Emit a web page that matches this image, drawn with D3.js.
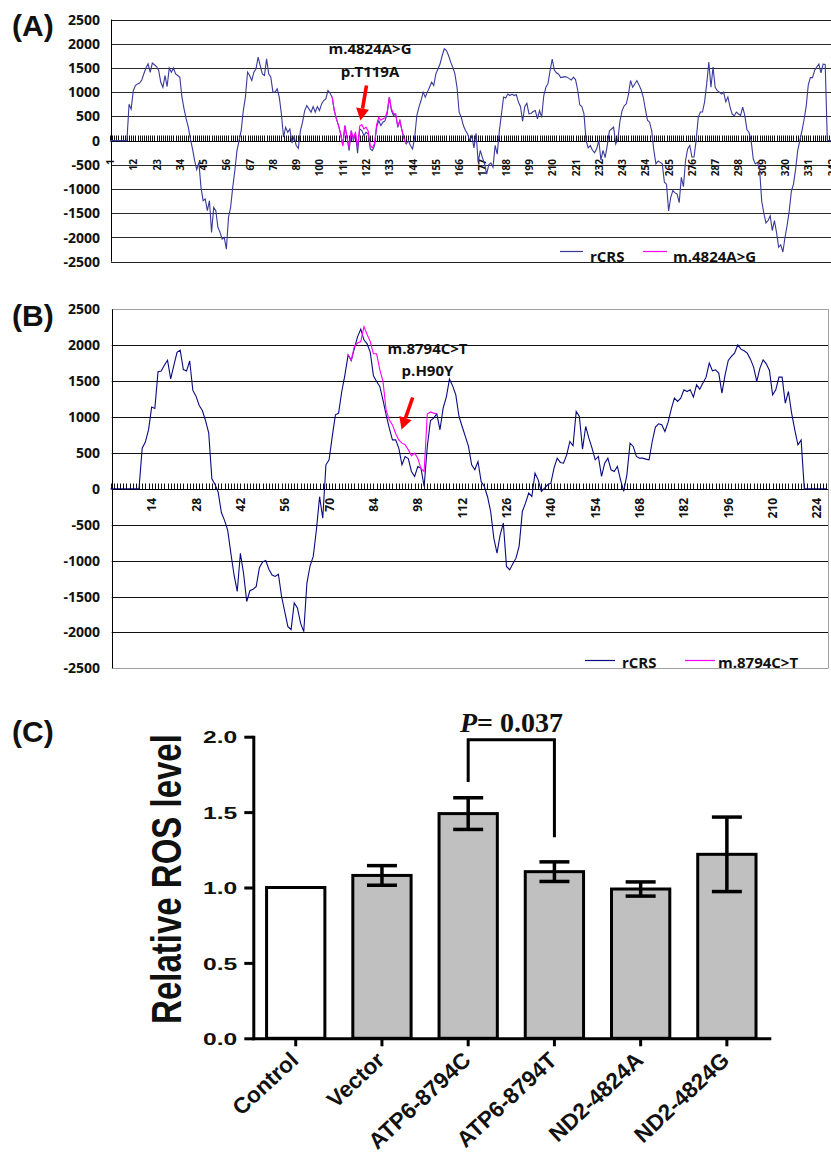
<!DOCTYPE html>
<html>
<head>
<meta charset="utf-8">
<script src="https://cdn.jsdelivr.net/npm/d3@7"></script>
<style>
  body { margin: 0; background: #fff; }
  svg { display: block; background: #fff; }
  .prof text { font-family: "Open Sans", sans-serif; font-weight: bold; fill: #111; }
  .bars text { font-family: "Liberation Sans", Arial, sans-serif; font-weight: bold; fill: #111; }
  .panel-label { font-family: "Liberation Sans", Arial, sans-serif; font-weight: bold; font-size: 30px; fill: #111; }
</style>
</head>
<body>
<svg id="fig" width="831" height="1153"></svg>
<script>
// ---- data ----
const profileTicks = [-2500, -2000, -1500, -1000, -500, 0, 500, 1000, 1500, 2000, 2500];

// panel A : ND2 hydropathy, rCRS vs m.4824A>G
const aLabels = [1, 12, 23, 34, 45, 56, 67, 78, 89, 100, 111, 122, 133, 144, 155, 166, 177, 188, 199, 210,
  221, 232, 243, 254, 265, 276, 287, 298, 309, 320, 331, 342];
const aRCRS = [
  0, 0, 0, 0, 0, 0, 0, 0, 0, 750,
  650, 1030, 1137, 1170, 1190, 1250, 1380, 1500, 1585, 1410,
  1600, 1565, 1530, 1447, 1205, 1100, 1343, 1116, 1500, 1412,
  1500, 1378, 1343, 1309, 896, 655, 448, 276, 34, -172,
  -413, -600, -450, -965, -1240, -1205, -1447, -1240, -1895, -1378,
  -1447, -1790, -1895, -2032, -2000, -2240, -1585, -1378, -965, -620,
  -207, 0, 207, 620, 896, 1412, 1343, 1240, 1412, 1480,
  1723, 1550, 1378, 1343, 1688, 1378, 1309, 1000, 1000, 1068,
  896, 551, 69, 276, 172, 241, -50, 83, -103, -160,
  207, 380, 620, 723, 655, 586, 703, 586, 703, 620,
  758, 827, 860, 1033, 978, 896, 620, 448, 310, 138,
  -103, 310, 69, -207, 207, 0, 138, -262, 241, 207,
  103, 172, 138, -172, -207, -103, 276, 413, 310, 380,
  413, 551, 896, 620, 517, 551, 276, 413, 207, 34,
  -69, 0, -103, -172, 69, 517, 690, 827, 1000, 896,
  1000, 1100, 1205, 1137, 1378, 1480, 1585, 1757, 1895, 1860,
  1757, 1620, 1516, 1378, 1100, 586, 482, 310, 207, 138,
  0, 100, -150, 150, -450, -200, -350, -480, -690, -500,
  -460, -550, -100, -280, 200, 550, 900, 880, 960, 930,
  960, 930, 950, 800, 700, 400, 700, 770, 550, 560,
  600, 620, 450, 620, 480, 930, 1100, 1180, 1450, 1680,
  1450, 1400, 1370, 1300, 1310, 1320, 1310, 1280, 1250, 1310,
  1260, 1050, 740, 700, 550, 0, -150, -100, -200, -250,
  -170, 0, -400, -200, -350, -100, 200, 240, 280, -70,
  30, 400, 620, 720, 760, 950, 1240, 1100, 1170, 1240,
  1150, 1050, 900, 650, 420, 380, 200, -200, -480, -420,
  -450, -480, -860, -900, -1450, -1170, -1030, -1080, -1100, -1280,
  -760, -950, -410, -170, -100, -340, -340, 0, 480, 590,
  590, 800, 1170, 1620, 1100, 1520, 1100, 1030, 1000, 960,
  1000, 800, 900, 700, 550, 510, 590, 550, 520, 690,
  520, 230, 170, 0, -380, -480, -450, -600, -1250, -1500,
  -1700, -1650, -1550, -1860, -1650, -1900, -2200, -2150, -2300, -2000,
  -1750, -1450, -1050, -900, -600, -200, 0, 200, 430, 700,
  1150, 1300, 1300, 1450, 1520, 1580, 1400, 1580, 1570, 0,
  0, 0
];
const aMutantStart = 106;
const aMutant = [
  896, 620, 448, 310, 138, -103, 310, 69, -150, 207,
  40, 180, -150, 300, 330, 240, 280, 200, -100, -150,
  -60, 330, 480, 420, 450, 470, 600, 896, 650, 560,
  551, 300, 413, 207, 34, -69
];

// panel B : ATP6 hydropathy, rCRS vs m.8794C>T
const bLabels = [14, 28, 42, 56, 70, 84, 98, 112, 126, 140, 154, 168, 182, 196, 210, 224];
const bRCRS = [
  0, 0, 0, 0, 0, 0, 0, 0, 0, 0,
  566, 650, 820, 1140, 1120, 1630, 1640, 1720, 1790, 1530,
  1720, 1900, 1930, 1660, 1640, 1780, 1370, 1290, 1160, 1090,
  950, 780, 140, 60, -50, -330, -440, -580, -900, -1200,
  -1430, -900, -1180, -1570, -1420, -1400, -1360, -1100, -1020, -1000,
  -1120, -1200, -1220, -1190, -1500, -1710, -1920, -1960, -1590, -1660,
  -1870, -1990, -1313, -1072, -942, -571, -110, -410, 334, 404,
  730, 1030, 1054, 1355, 1588, 1866, 1787, 1959, 2120, 2224,
  2075, 2019, 1900, 1574, 1495, 1425, 1240, 1030, 845, 682,
  682, 566, 334, 450, 420, 241, 172, 311, 288, 32,
  590, 952, 984, 1044, 822, 1123, 1277, 1527, 1434, 1309,
  1007, 868, 729, 590, 334, 265, 380, 102, 32, -107,
  -316, -687, -896, -641, -478, -1082, -1128, -1044, -966, -794,
  -316, -200, -60, -107, 218, 125, -37, 9, 56, 79,
  288, 427, 367, 357, 473, 659, 599, 1077, 1007, 552,
  868, 705, 566, 404, 450, 172, 357, 427, 265, 241,
  311, 125, -37, 195, 636, 590, 450, 427, 427, 413,
  404, 659, 859, 905, 891, 798, 924, 1109, 1263, 1216,
  1263, 1379, 1355, 1379, 1277, 1448, 1388, 1472, 1555, 1750,
  1643, 1657, 1611, 1332, 1588, 1787, 1843, 1889, 2005, 1945,
  1922, 1889, 1806, 1694, 1495, 1680, 1796, 1741, 1648, 1309,
  1379, 1555, 1555, 1193, 1355, 1054, 822, 613, 680, 0,
  0, 0, 0, 0, 0, 0, 0
];
const bMutantStart = 76;
const bMutant = [
  1866, 1787, 1990, 2030, 2050, 2260, 2150, 2050, 1880, 1880,
  1660, 1500, 1100, 960, 890, 770, 680, 636, 613, 543,
  460, 497, 427, 280, 241, 1040, 1070, 1054, 1044
];

// panel C : relative ROS level
const rosGroups = ["Control", "Vector", "ATP6-8794C", "ATP6-8794T", "ND2-4824A", "ND2-4824G"];
const rosMean = [1.0, 1.08, 1.49, 1.105, 0.99, 1.22];
const rosSem = [0, 0.065, 0.105, 0.065, 0.047, 0.247];
const rosTicks = [0, 0.5, 1.0, 1.5, 2.0];
const rosCompare = ["ATP6-8794C", "ATP6-8794T"];
const rosPvalue = "0.037";

// ---- drawing ----
const svg = d3.select("#fig");
const crisp = v => Math.round(v) + 0.5;

function arrow(g, x1, y1, x2, y2) {
  const ang = Math.atan2(y2 - y1, x2 - x1);
  const hl = 12, hw = 6.5;
  const bx = x2 - hl * Math.cos(ang), by = y2 - hl * Math.sin(ang);
  g.append("line").attr("x1", x1).attr("y1", y1).attr("x2", bx).attr("y2", by)
    .attr("stroke", "#ff0000").attr("stroke-width", 3.6);
  g.append("path")
    .attr("d", `M${x2},${y2}L${bx + hw * Math.sin(ang)},${by - hw * Math.cos(ang)}L${bx - hw * Math.sin(ang)},${by + hw * Math.cos(ang)}Z`)
    .attr("fill", "#ff0000");
}

function drawProfile(cfg) {
  const g = svg.append("g").attr("class", "prof");
  const x = d3.scaleLinear().domain([1, cfg.n]).range(cfg.xRange);
  const y = d3.scaleLinear().domain([-2500, 2500]).range(cfg.yRange);

  // horizontal gridlines
  g.append("g").selectAll("line")
    .data(profileTicks.filter(d => d !== 0))
    .join("line")
      .attr("x1", cfg.left).attr("x2", cfg.right)
      .attr("y1", d => crisp(y(d))).attr("y2", d => crisp(y(d)))
      .attr("stroke", d => Math.abs(d) === 2500 ? cfg.edgeColor : cfg.gridColor)
      .attr("stroke-width", 1);

  if (cfg.frameRight) {
    g.append("line")
      .attr("x1", crisp(cfg.right)).attr("x2", crisp(cfg.right))
      .attr("y1", y(2500)).attr("y2", y(-2500))
      .attr("stroke", cfg.edgeColor);
  }

  // value axis
  g.append("line")
    .attr("x1", crisp(cfg.left)).attr("x2", crisp(cfg.left))
    .attr("y1", y(2500)).attr("y2", y(-2500))
    .attr("stroke", "#000");

  g.append("g").selectAll("text")
    .data(profileTicks)
    .join("text")
      .attr("x", 100).attr("y", d => y(d)).attr("dy", "0.36em")
      .attr("text-anchor", "end")
      .style("font-size", "14px")
      .text(d => d);

  // category axis at zero with one tick per residue
  const y0 = crisp(y(0));
  g.append("g").selectAll("line")
    .data(d3.range(1, cfg.n + 1))
    .join("line")
      .attr("x1", d => crisp(x(d))).attr("x2", d => crisp(x(d)))
      .attr("y1", y0).attr("y2", y0 - 6)
      .attr("stroke", "#111").attr("stroke-width", 1);
  g.append("line")
    .attr("x1", cfg.left).attr("x2", cfg.right)
    .attr("y1", y0).attr("y2", y0)
    .attr("stroke", "#000");

  g.append("g").selectAll("text")
    .data(cfg.labels)
    .join("text")
      .attr("transform", d => `translate(${x(d)},${cfg.labelTop}) rotate(-90)`)
      .attr("text-anchor", "end")
      .attr("dominant-baseline", "central")
      .style("font-size", cfg.labelSize)
      .text(d => d);

  // profiles
  const line = start => d3.line().x((d, i) => x(start + i)).y(d => y(d));
  g.append("path").datum(cfg.ref)
    .attr("d", line(1)).attr("fill", "none")
    .attr("stroke", cfg.refColor).attr("stroke-width", 1.1);
  g.append("path").datum(cfg.mut)
    .attr("d", line(cfg.mutStart)).attr("fill", "none")
    .attr("stroke", "#ff00ff").attr("stroke-width", 1.1);

  // annotation
  g.append("text").attr("x", cfg.note.x).attr("y", cfg.note.y1).attr("dy", "0.36em")
    .attr("text-anchor", "middle").style("font-size", "15px").text(cfg.note.t1);
  g.append("text").attr("x", cfg.note.x).attr("y", cfg.note.y2).attr("dy", "0.36em")
    .attr("text-anchor", "middle").style("font-size", "15px").text(cfg.note.t2);
  arrow(g, ...cfg.arrow);

  // legend
  const lg = g.append("g");
  cfg.legend.forEach(item => {
    lg.append("line")
      .attr("x1", item.x).attr("x2", item.x + item.w)
      .attr("y1", cfg.legendLineY).attr("y2", cfg.legendLineY)
      .attr("stroke", item.color).attr("stroke-width", 1.2);
    lg.append("text")
      .attr("x", item.x + item.w + item.gap).attr("y", cfg.legendTextY)
      .style("font-size", "15px").text(item.name);
  });
}

// (A)
drawProfile({
  n: aRCRS.length, xRange: [110, 110 + (aRCRS.length - 1) * 2.116], yRange: [261.7, 19.5],
  left: 111, right: 831, frameRight: false,
  gridColor: "#2a2a2a", edgeColor: "#222",
  labels: aLabels, labelTop: 159, labelSize: "10px",
  ref: aRCRS, refColor: "#3a3a9c", mut: aMutant, mutStart: aMutantStart,
  note: { x: 370, y1: 49, y2: 71.5, t1: "m.4824A>G", t2: "p.T119A" },
  arrow: [366.5, 85.5, 360.5, 120.5],
  legendLineY: 251.5, legendTextY: 261.5,
  legend: [
    { name: "rCRS", x: 560, w: 23, gap: 7, color: "#3a3a9c" },
    { name: "m.4824A>G", x: 643, w: 24, gap: 6, color: "#ff00ff" }
  ]
});

// (B)
drawProfile({
  n: bRCRS.length, xRange: [110.5, 110.5 + (bRCRS.length - 1) * 3.168], yRange: [668.3, 309.3],
  left: 111.7, right: 828.3, frameRight: true,
  gridColor: "#111", edgeColor: "#a0a0a0",
  labels: bLabels, labelTop: 498, labelSize: "12px",
  ref: bRCRS, refColor: "#0a0a80", mut: bMutant, mutStart: bMutantStart,
  note: { x: 427.5, y1: 349, y2: 371, t1: "m.8794C>T", t2: "p.H90Y" },
  arrow: [412.7, 397.5, 401.5, 429.5],
  legendLineY: 660.5, legendTextY: 668,
  legend: [
    { name: "rCRS", x: 585, w: 30, gap: 7, color: "#0a0a80" },
    { name: "m.8794C>T", x: 685, w: 30, gap: 3, color: "#ff00ff" }
  ]
});

// (C)
const cg = svg.append("g").attr("class", "bars");
const cX = d3.scaleBand().domain(rosGroups).range([253.3, 769.3]).paddingInner(0.324).paddingOuter(0.154);
const cY = d3.scaleLinear().domain([0, 2]).range([1038.3, 736.7]);

cg.append("g").selectAll("rect")
  .data(rosGroups)
  .join("rect")
    .attr("x", d => cX(d)).attr("width", cX.bandwidth())
    .attr("y", (d, i) => cY(rosMean[i])).attr("height", (d, i) => cY(0) - cY(rosMean[i]))
    .attr("fill", (d, i) => i === 0 ? "#ffffff" : "#c0c0c0")
    .attr("stroke", "#000").attr("stroke-width", 3);

const eb = cg.append("g").attr("stroke", "#000").attr("stroke-width", 3.5);
rosGroups.forEach((d, i) => {
  if (!rosSem[i]) return;
  const cx = cX(d) + cX.bandwidth() / 2;
  const hi = cY(rosMean[i] + rosSem[i]), lo = cY(rosMean[i] - rosSem[i]);
  eb.append("line").attr("x1", cx).attr("x2", cx).attr("y1", hi).attr("y2", lo);
  eb.append("line").attr("x1", cx - 15).attr("x2", cx + 15).attr("y1", hi).attr("y2", hi);
  eb.append("line").attr("x1", cx - 15).attr("x2", cx + 15).attr("y1", lo).attr("y2", lo);
});

const yAx = cg.append("g").attr("transform", "translate(253.3,0)")
  .call(d3.axisLeft(cY).tickValues(rosTicks).tickFormat(d3.format(".1f")).tickSize(9).tickSizeOuter(0));
yAx.select(".domain").attr("stroke-width", 3).attr("stroke-linecap", "square");
yAx.selectAll(".tick line").attr("stroke-width", 3);
yAx.selectAll(".tick text")
  .attr("x", 0).attr("transform", "translate(-16,0) scale(1.45,1)")
  .attr("dy", "0.36em")
  .style("font-size", "17px").style("font-family", "Liberation Sans, Arial, sans-serif").style("font-weight", "bold");

const xAx = cg.append("g").attr("transform", "translate(0,1038.3)")
  .call(d3.axisBottom(cX).tickSize(8).tickSizeOuter(0).tickFormat(""));
xAx.select(".domain").attr("stroke-width", 3).attr("stroke-linecap", "square");
xAx.selectAll(".tick line").attr("stroke-width", 3);

cg.append("g").selectAll("text")
  .data(rosGroups)
  .join("text")
    .attr("transform", d => `translate(${cX(d) + cX.bandwidth() / 2 + 4},1062) rotate(-43)`)
    .attr("text-anchor", "end")
    .style("font-size", "22.5px")
    .text(d => d);

cg.append("text")
  .attr("transform", "translate(181,879) scale(1.3,1) rotate(-90)")
  .attr("text-anchor", "middle")
  .style("font-size", "33px")
  .text("Relative ROS level");

// significance bracket
const bx1 = cX(rosCompare[0]) + cX.bandwidth() / 2;
const bx2 = cX(rosCompare[1]) + cX.bandwidth() / 2;
cg.append("path")
  .attr("d", `M${bx1},${cY(1.70)}V${cY(1.98)}H${bx2}V${cY(1.333)}`)
  .attr("fill", "none").attr("stroke", "#000").attr("stroke-width", 3);
const pt = cg.append("text")
  .attr("x", 460).attr("y", 731.5)
  .style("font-family", "Liberation Serif, 'Times New Roman', serif")
  .style("font-size", "28px").style("font-weight", "bold");
pt.append("tspan").style("font-style", "italic").text("P");
pt.append("tspan").text("= " + rosPvalue);

// panel letters
svg.append("text").attr("class", "panel-label").attr("x", 12).attr("y", 36).text("(A)");
svg.append("text").attr("class", "panel-label").attr("x", 12).attr("y", 326).text("(B)");
svg.append("text").attr("class", "panel-label").attr("x", 12).attr("y", 742).text("(C)");
</script>
</body>
</html>
